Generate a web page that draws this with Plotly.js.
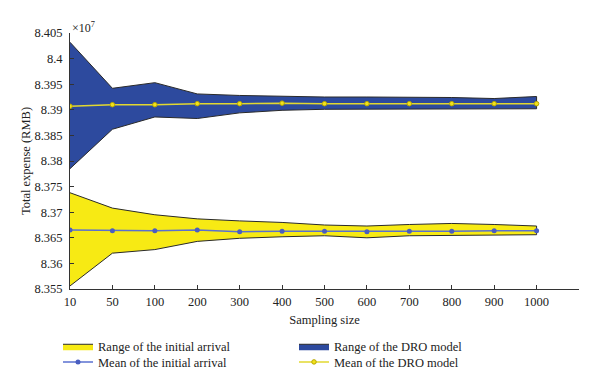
<!DOCTYPE html>
<html>
<head>
<meta charset="utf-8">
<script src="https://cdn.plot.ly/plotly-3.0.1.min.js"></script>
<style>html,body{margin:0;padding:0;background:#fff;}#chart{width:600px;height:389px;}</style>
</head>
<body>
<div id="chart"></div>
<script>
// Sampling sizes (categorical, evenly spaced)
const categories = ["10","50","100","200","300","400","500","600","700","800","900","1000"];
// Values in units of 1e7 RMB
const droUpper   = [8.4032, 8.3942, 8.3953, 8.3931, 8.3928, 8.3926, 8.3925, 8.3925, 8.3925, 8.3924, 8.3922, 8.3926];
const droLower   = [8.3785, 8.3862, 8.3886, 8.3883, 8.3894, 8.3899, 8.3901, 8.3902, 8.3902, 8.3902, 8.3902, 8.3902];
const droMean    = [8.3907, 8.3910, 8.3910, 8.3912, 8.3912, 8.3913, 8.3912, 8.3912, 8.3912, 8.3912, 8.3912, 8.3912];
const initUpper  = [8.3738, 8.3708, 8.3695, 8.3687, 8.3683, 8.3680, 8.3675, 8.3673, 8.3676, 8.3678, 8.3676, 8.3673];
const initLower  = [8.3556, 8.3620, 8.3627, 8.3643, 8.3649, 8.3652, 8.3654, 8.3650, 8.3654, 8.3655, 8.3655, 8.3656];
const initMean   = [8.3665, 8.3664, 8.3664, 8.3665, 8.3662, 8.3663, 8.3663, 8.3662, 8.3663, 8.3663, 8.3664, 8.3664];
const yTicks = [8.355, 8.36, 8.365, 8.37, 8.375, 8.38, 8.385, 8.39, 8.395, 8.4, 8.405];
const yTickText = ["8.355","8.36","8.365","8.37","8.375","8.38","8.385","8.39","8.395","8.4","8.405"];

const idx = categories.map((c, i) => i);
const polyX = idx.concat(idx.slice().reverse());
const polyY = (up, lo) => up.concat(lo.slice().reverse());

const font = "Liberation Serif, Times New Roman, serif";

const traces = [
  {x: polyX, y: polyY(initUpper, initLower), type: "scatter", mode: "lines", fill: "toself",
   fillcolor: "#F7EA14", line: {color: "#2a2a2a", width: 1}, name: "Range of the initial arrival",
   legend: "legend", hoverinfo: "skip"},
  {x: polyX, y: polyY(droUpper, droLower), type: "scatter", mode: "lines", fill: "toself",
   fillcolor: "#2D4A9E", line: {color: "#2a2a2a", width: 1}, name: "Range of the DRO model",
   legend: "legend2", hoverinfo: "skip"},
  {x: idx, y: initMean, type: "scatter", mode: "lines+markers", name: "Mean of the initial arrival",
   legend: "legend3",
   line: {color: "#5A70D0", width: 1.5}, marker: {symbol: "circle", size: 5, color: "#4A5EC0"}},
  {x: idx, y: droMean, type: "scatter", mode: "lines+markers", name: "Mean of the DRO model",
   legend: "legend4",
   line: {color: "#E2D830", width: 1.5}, marker: {symbol: "circle", size: 4.5, color: "#F2E21C", line: {color: "#B8A800", width: 1}}}
];

const plotH = 389 - 33 - 94;
const plotW = 600 - 70 - 21;
const legendCommon = {
  orientation: "v", xanchor: "left", yanchor: "middle", itemwidth: 30,
  font: {family: font, size: 12.5, color: "#222"}, bgcolor: "rgba(0,0,0,0)"
};
const row1 = -(354 - 295) / plotH, row2 = -(370 - 295) / plotH;
const col1 = (58 - 70) / plotW, col2 = (294 - 70) / plotW;

const layout = {
  width: 600, height: 389,
  margin: {l: 70, r: 21, t: 33, b: 94},
  paper_bgcolor: "#fff", plot_bgcolor: "#fff",
  font: {family: font, size: 12.5, color: "#222"},
  showlegend: true,
  xaxis: {
    range: [0, 12], tickvals: idx, ticktext: categories,
    showgrid: false, zeroline: false, showline: true, linecolor: "#333", linewidth: 1,
    ticks: "inside", ticklen: 4, tickcolor: "#333", ticklabelstandoff: 1,
    tickfont: {family: font, size: 12.5, color: "#222"},
    title: {text: "Sampling size", font: {family: font, size: 12.5, color: "#222"}, standoff: 7}
  },
  yaxis: {
    range: [8.355, 8.405], tickvals: yTicks, ticktext: yTickText,
    showgrid: false, zeroline: false, showline: true, linecolor: "#333", linewidth: 1,
    ticks: "inside", ticklen: 4, tickcolor: "#333", ticklabelstandoff: 4,
    tickfont: {family: font, size: 12.5, color: "#222"},
    title: {text: "Total expense (RMB)", font: {family: font, size: 12.5, color: "#222"}, standoff: 1}
  },
  legend:  Object.assign({}, legendCommon, {x: col1, y: row1}),
  legend2: Object.assign({}, legendCommon, {x: col2, y: row1}),
  legend3: Object.assign({}, legendCommon, {x: col1, y: row2}),
  legend4: Object.assign({}, legendCommon, {x: col2, y: row2}),
  annotations: [{
    xref: "paper", yref: "paper", x: 0, y: 1, xanchor: "left", yanchor: "bottom", yshift: -4,
    text: "×10<sup>7</sup>", showarrow: false, font: {family: font, size: 12, color: "#222"}
  }]
};

Plotly.newPlot("chart", traces, layout, {displayModeBar: false, staticPlot: true});
</script>
</body>
</html>
